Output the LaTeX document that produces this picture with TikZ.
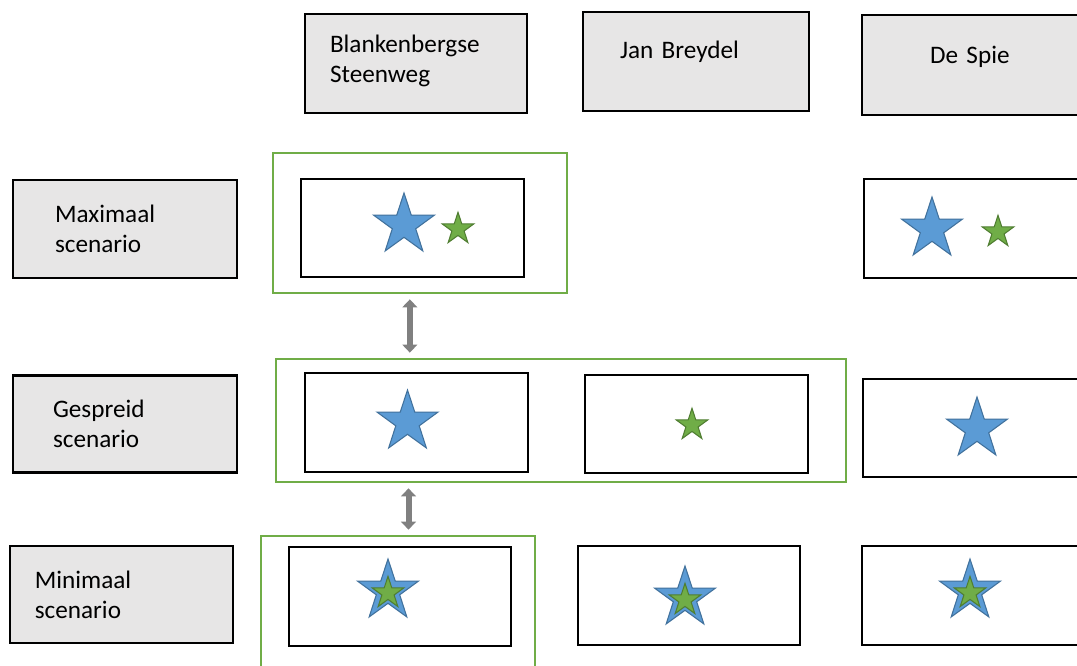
\documentclass[tikz,border=0pt]{standalone}
\usepackage{fontspec}
\setmainfont{Carlito}
\usetikzlibrary{shapes.geometric,arrows.meta}

\definecolor{boxgray}{HTML}{E7E6E6}
\definecolor{starblue}{HTML}{5B9BD5}
\definecolor{starblueline}{HTML}{41719C}
\definecolor{stargreen}{HTML}{70AD47}
\definecolor{stargreenline}{HTML}{507E32}

\tikzset{
  hdr/.style={draw=black, line width=1.6pt, fill=boxgray, align=left, inner sep=0pt,
    font=\fontsize{18.9}{22.5}\selectfont},
  cell/.style={draw=black, line width=1.6pt, fill=white, minimum width=167pt, minimum height=74pt},
  grp/.style={draw=stargreen, line width=1.5pt},
  bigstar/.style={star, star points=5, star point ratio=2.6, inner sep=0pt, minimum size=48pt,
    fill=starblue, draw=starblueline, line width=0.8pt},
  smallstar/.style={star, star points=5, star point ratio=2.6, inner sep=0pt, minimum size=25pt,
    fill=stargreen, draw=stargreenline, line width=0.8pt},
  dbl/.style={line width=4.5pt, draw=black!50, shorten <=4pt, shorten >=4pt,
    {Triangle[length=6pt,width=11pt,fill=black!50]}-{Triangle[length=6pt,width=11pt,fill=black!50]}}
}

\begin{document}
\begin{tikzpicture}[x=0.75pt, y=-0.75pt]
	\useasboundingbox (0,0) rectangle (1077,665);

	% green groups
	\node[grp, minimum width=220.5pt, minimum height=105pt] (gMax) at (420,223) {};
	\node[grp, minimum width=427.5pt, minimum height=92.25pt] (gGes) at (561,420.5) {};
	\node[grp, minimum width=205.5pt, minimum height=105pt] (gMin) at (398,606) {};

	% column headers
	\node[hdr, minimum width=166.5pt, minimum height=74.25pt, text width=129pt, text depth=30pt] (hBS) at (416,63.5) {Blankenbergse\\Steenweg};
	\node[hdr, minimum width=169.5pt, minimum height=74.25pt, text width=114pt, text depth=17.5pt] (hJB) at (696,61.5) {Jan Breydel};
	\node[hdr, minimum width=168pt, minimum height=75pt, text width=66pt, text depth=15pt] (hDS) at (974,65) {De Spie};

	% row headers
	\node[hdr, minimum width=168pt, minimum height=73.5pt, text width=105pt] (hMax) at (125,229) {Maximaal\\scenario};
	\node[hdr, minimum width=168pt, minimum height=72.75pt, text width=108pt] (hGes) at (125,424) {Gespreid\\scenario};
	\node[hdr, minimum width=167.25pt, minimum height=72.75pt, text width=130pt] (hMin) at (121.5,594.5) {Minimaal\\scenario};

	% cells
	\node[cell] (cMaxBS) at (412.5,228) {};
	\node[cell] (cMaxDS) at (975,228.5) {};
	\node[cell] (cGesBS) at (416.5,422.5) {};
	\node[cell] (cGesJB) at (696.5,424) {};
	\node[cell] (cGesDS) at (974,428) {};
	\node[cell] (cMinBS) at (400,596.5) {};
	\node[cell] (cMinJB) at (689,595.5) {};
	\node[cell] (cMinDS) at (973,595.5) {};

	% stars
	\node[bigstar] (sMaxBS) at (404,225) {};
	\node[smallstar] (tMaxBS) at (458,229) {};
	\node[bigstar] (sMaxDS) at (932,229) {};
	\node[smallstar] (tMaxDS) at (998,232) {};
	\node[bigstar] (sGesBS) at (407.5,422) {};
	\node[smallstar] (tGesJB) at (692,425) {};
	\node[bigstar] (sGesDS) at (977,429) {};
	\node[bigstar] (sMinBS) at (388,591) {};
	\node[smallstar] (tMinBS) at (388,593) {};
	\node[bigstar] (sMinJB) at (685,598) {};
	\node[smallstar] (tMinJB) at (685,600) {};
	\node[bigstar] (sMinDS) at (970,591) {};
	\node[smallstar] (tMinDS) at (970,593) {};

	% arrows between scenarios
	\draw[dbl] ([xshift=-2pt]cMaxBS.south |- gMax.south) -- ([xshift=-2pt]cMaxBS.south |- gGes.north);
	\draw[dbl] ([xshift=-3pt]cMaxBS.south |- gGes.south) -- ([xshift=-3pt]cMaxBS.south |- gMin.north);
\end{tikzpicture}
\end{document}
